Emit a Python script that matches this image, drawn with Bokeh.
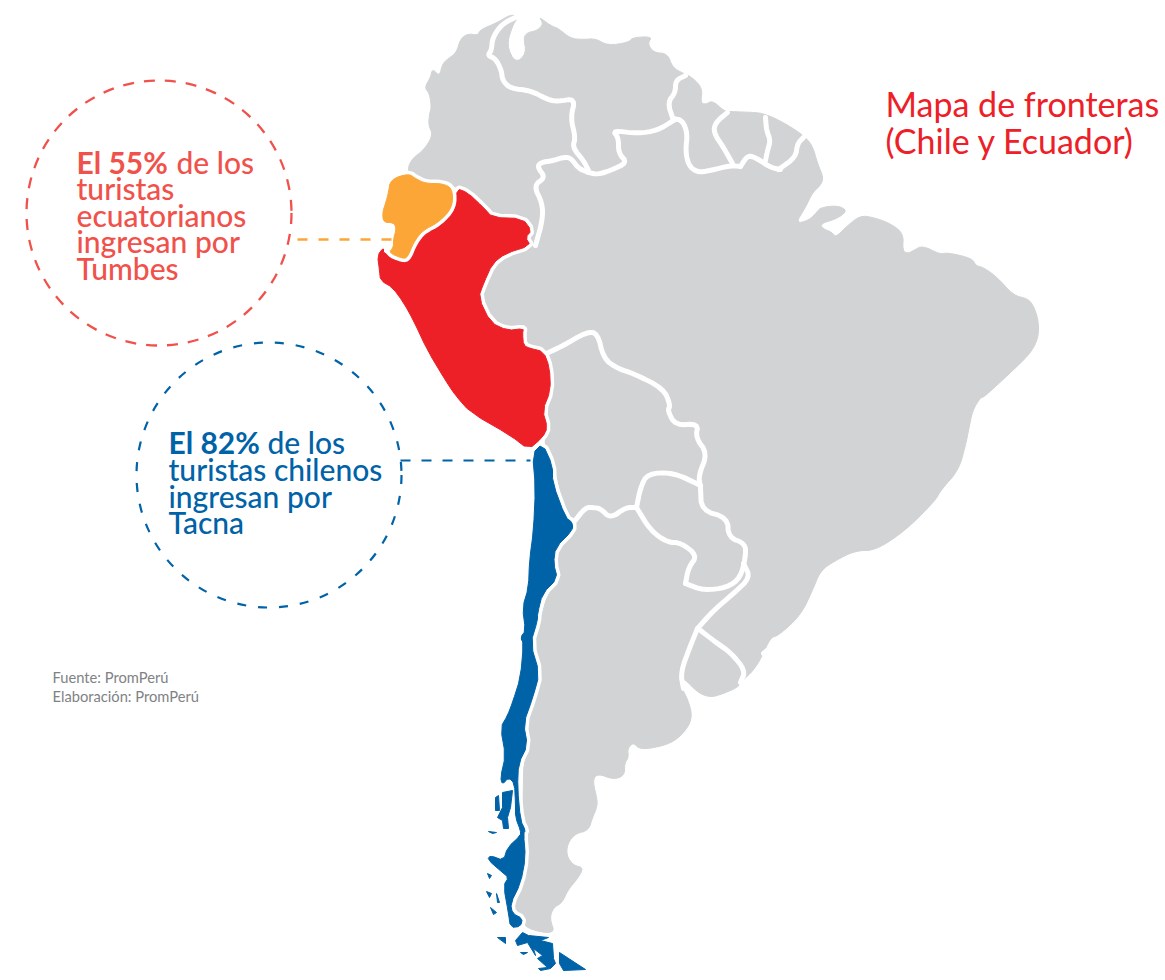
from bokeh.plotting import figure
from bokeh.models import Range1d
from bokeh.core.properties import value
from bokeh.embed import file_html
from bokeh.resources import INLINE

# --- map geometry (x, y in picture pixels) ---
land = [(408,173),(408,165),(413,157),(420,152),(428,143),(432,133),(428,125),(429,113),(431,107),(429,93),(424,87),(430,77),(432,68),(439,76),(442,63),(448,58),(456,52),(460,38),(468,33),(477,35),(480,29),(497,22),(510,14),(518,16),
 (512,25),(506,45),(515,63),(526,53),(523,37),(527,32),(537,30),(543,23),(538,16),(550,25),(558,28),(570,38),(583,39),(595,38),(607,45),(628,42),(632,37),(652,36),(647,43),(653,52),(667,53),(672,67),(683,73),(692,77),(702,88),(700,102),(705,104),(712,100),(723,110),(728,111),(757,112),(765,114),(775,118),(788,125),(803,135),(812,145),(817,163),(823,177),(820,185),(812,192),(805,207),(795,223),(808,220),(816,212),(820,207),(837,205),(847,210),(837,218),(820,223),(822,228),(832,232),(835,237),(847,225),(860,215),(873,217),(890,223),(903,233),(902,250),(907,253),(913,250),(922,245),(940,254),(947,252),(972,258),(975,265),(983,267),(997,277),(1013,295),(1027,298),(1033,305),(1038,320),(1038,337),(1030,353),(1007,375),(983,397),(980,397),(972,410),(968,430),(965,445),(958,470),(940,490),(935,500),(905,530),(875,550),(855,550),(835,560),(820,570),(812,590),(800,615),(778,635),(770,637),(762,655),(753,670),(742,680),(737,687),(723,693),(710,697),(697,692),(683,677),
 (678,682),(688,700),(692,718),(683,733),(670,743),(650,748),(638,748),(633,742),(627,748),(628,757),(624,763),(624,775),(613,779),(597,773),(592,780),(597,800),(596,808),(592,817),(588,830),(575,833),(567,843),(566,855),(573,865),(583,867),(578,877),(567,890),(562,902),(553,907),(549,918),(555,934),(525,928),(522,917),(513,908),(513,900),
 (522,883),(527,857),(525,837),(525,827),(522,807),(523,787),(523,763),(530,745),(525,723),(533,700),(542,673),(533,643),(540,620),(547,593),(560,580),(555,547),(575,530),(575,520),(567,517),(557,480),(555,467),(543,443),(548,427),(544,410),(552,390),(552,367),(547,352),(542,348),(527,347),(523,337),(523,330),(525,322),(507,332),(492,323),(485,310),(478,295),(485,282),(493,263),(503,255),(510,255),(533,247),(527,238),(532,230),(522,218),(497,217),(485,207),(467,192),(453,185),(428,182),(413,175)]

peru = [(383,247),(377,255),(379,270),(380,280),(392,287),(403,302),(413,320),(427,350),(445,380),(455,395),(470,412),(510,435),(528,449),(542,437),(547,427),(542,410),(550,390),(549,367),(543,351),(530,348),(523,345),(522,333),(523,328),(507,330),(490,322),(478,297),(483,283),(492,263),(505,253),(530,245),(525,237),(531,230),(522,218),(492,217),(483,207),(467,192),(456,188),(456,207),(442,223),(425,232),(415,243),(410,258),(403,262),(383,253)]

ecuador = [(408,173),(390,179),(388,192),(385,203),(382,212),(383,222),(393,222),(396,228),(393,238),(393,247),(388,252),(402,258),(407,257),(413,242),(422,230),(438,222),(452,207),(452,188),(442,183),(425,183),(415,178)]

chile = [(542,443),(532,453),(535,487),(533,530),(529,560),(528,587),(522,607),(525,630),(520,637),(523,643),(520,677),(512,702),(507,715),(500,727),(505,755),(500,777),(502,784),(508,777),(514,783),(515,803),(515,817),(520,830),(520,835),(507,847),(503,860),(490,855),(487,859),(502,872),(508,877),(503,885),(508,913),(510,927),(520,926),(522,918),(512,913),(510,903),(520,883),(525,857),(523,833),(525,830),(520,820),(517,787),(518,763),(527,745),(523,723),(532,698),(539,673),(530,643),(537,620),(537,613),(542,593),(557,578),(553,563),(555,547),(572,530),(572,522),(565,517),(552,482),(552,465)]

chile_islands = [
 [(495,797),(498,795),(499,810),(495,810)],
 [(502,792),(512,790),(510,807),(507,817),(508,828),(503,828),(502,820),(497,817),(502,807)],
 [(488,831),(496,832),(492,833)],
 [(490,907),(496,912),(493,914)],
 [(487,873),(491,875),(489,878)],
 [(486,891),(491,893),(489,897)],
 [(496,893),(499,902),(497,902)],
 [(522,932),(528,935),(548,937),(540,940),(552,943),(553,958),(555,963),(550,968),(540,970),(538,968),(547,967),(537,958),(542,955),(533,948),(535,955),(527,942),(517,945),(515,940)],
 [(559,952),(585,969),(563,970),(559,963)],
 [(520,952),(527,952),(523,954)],
 [(497,937),(505,937),(505,943)],
]

borders = [
 [(517,16),(502,23),(492,37),(491,50),(487,55),(495,58),(501,70),(502,80),(510,88),(530,90),(547,99),(557,101),(575,98),(570,117),(575,137),(572,147),(583,160),(588,170)],
 [(588,172),(597,174),(610,170),(627,162),(618,153),(618,137),(612,130),(637,133),(657,130),(673,120)],
 [(673,120),(667,102),(675,92),(675,80),(685,75)],
 [(673,118),(682,120),(687,133),(685,150),(688,165),(697,172),(710,170),(730,165),(740,166)],
 [(727,112),(715,122),(713,132),(723,147),(732,163)],
 [(740,166),(747,155),(755,157),(770,167),(780,169)],
 [(765,117),(766,130),(770,140),(767,150),(765,160)],
 [(778,169),(795,157),(797,143),(803,137)],
 [(588,172),(578,168),(570,157),(562,157),(553,160),(540,162),(537,167),(545,177),(533,185),(542,203),(542,220),(535,245)],
 [(548,352),(563,345),(585,332),(597,332),(603,358),(617,368),(633,373),(663,388),(670,405),(667,410),(675,425),(698,423),(695,437),(707,453),(698,475),(700,487)],
 [(700,485),(673,472),(647,473),(640,487),(636,507)],
 [(636,507),(625,507),(610,518),(600,508),(592,507),(585,507),(573,522)],
 [(700,487),(701,510),(727,517),(728,537),(745,543),(745,557),(740,577),(727,587),(703,590),(685,583)],
 [(636,507),(650,530),(667,542),(680,542),(697,555),(688,567),(685,583)],
 [(743,563),(750,577),(733,593),(713,610),(697,628)],
 [(697,628),(690,645),(680,672),(683,688)],
 [(700,630),(717,643),(730,652),(745,670),(740,682)],
 [(763,653),(778,640)],
 [(805,215),(812,202)],
]

tail_orange_x, tail_orange_y = [297, 393], [239, 239]
tail_blue_x, tail_blue_y = [400, 530], [460, 460]
circle_red = (158.5, 212.5, 132.5)
circle_blue = (268.5, 474.5, 132.5)

title_lines = ["Mapa de fronteras", "(Chile y Ecuador)"]
red_bold = "El 55%"
red_rest = "de los"
red_lines = ["turistas", "ecuatorianos", "ingresan por", "Tumbes"]
blue_bold = "El 82%"
blue_rest = "de los"
blue_lines = ["turistas chilenos", "ingresan por", "Tacna"]
source_lines = ["Fuente: PromPerú", "Elaboración: PromPerú"]

GRAY, RED, ORANGE, BLUE = "#D1D3D4", "#ED2028", "#FBA637", "#0062A7"
CORAL, NOTE = "#F0524B", "#808285"

def round_off(pts, closed=True, passes=2):
    """Corner rounding of a hand-traced outline, for drawing only."""
    for _ in range(passes):
        out = []
        n = len(pts)
        if not closed:
            out.append(pts[0])
        for i in range(n if closed else n - 1):
            a, b = pts[i], pts[(i + 1) % n]
            out.append((a[0] * .75 + b[0] * .25, a[1] * .75 + b[1] * .25))
            out.append((a[0] * .25 + b[0] * .75, a[1] * .25 + b[1] * .75))
        if not closed:
            out.append(pts[-1])
        pts = out
    return [q[0] for q in pts], [q[1] for q in pts]

p = figure(width=1165, height=980, x_range=Range1d(0, 1165), y_range=Range1d(980, 0),
           output_backend="svg", toolbar_location=None, min_border=0,
           x_axis_type=None, y_axis_type=None, outline_line_color=None,
           background_fill_color="white", border_fill_color="white")
p.grid.visible = False

x, y = round_off(land)
p.patch(x, y, fill_color=GRAY, line_color=GRAY, line_width=1, line_join="round")
lines = [round_off(b, closed=False) for b in borders]
p.multi_line([l[0] for l in lines], [l[1] for l in lines], line_color="white",
             line_width=5, line_join="round", line_cap="round")

for poly, col, n in ((peru, RED, 1), (ecuador, ORANGE, 2), (chile, BLUE, 1)):
    x, y = round_off(poly, passes=n)
    p.patch(x, y, fill_color="white", line_color="white", line_width=8, line_join="round")
    p.patch(x, y, fill_color=col, line_color=col, line_width=1, line_join="round")

isl = [round_off(i, passes=0) for i in chile_islands]
p.patches([i[0] for i in isl], [i[1] for i in isl], fill_color=BLUE, line_color=BLUE, line_width=1)

p.line(tail_orange_x, tail_orange_y, line_color=ORANGE, line_width=2.4, line_dash="10 11")
p.line(tail_blue_x, tail_blue_y, line_color=BLUE, line_width=2.2, line_dash="10 11")
p.circle([circle_red[0]], [circle_red[1]], radius=circle_red[2], fill_color=None,
         line_color=CORAL, line_width=2.3, line_dash="11 10")
p.circle([circle_blue[0]], [circle_blue[1]], radius=circle_blue[2], fill_color=None,
         line_color=BLUE, line_width=2.2, line_dash="9 12")

def label(x, y, text, size, color, font="Lato Medium", style="normal"):
    # the page draws "alphabetic" text about a third of its size lower than asked
    p.text([x], [y - 0.35 * size], text=[text], text_font=value(font), text_font_size=f"{size}px",
           text_color=color, text_font_style=style, text_align="left", text_baseline="alphabetic")

label(885, 115, title_lines[0], 34, RED, "Lato")
label(885, 152, title_lines[1], 34, RED, "Lato")

label(76, 171.5, red_bold, 30, CORAL, "Lato", "bold")
label(176, 171.5, red_rest, 30, CORAL)
for i, t in enumerate(red_lines):
    label(76, 198 + 26.6 * i, t, 30, CORAL)

label(168, 452, blue_bold, 30, BLUE, "Lato", "bold")
label(267, 452, blue_rest, 30, BLUE)
for i, t in enumerate(blue_lines):
    label(168, 479 + 26.6 * i, t, 30, BLUE)

label(52, 681.5, source_lines[0], 14.7, NOTE, "Lato")
label(52, 701, source_lines[1], 14.7, NOTE, "Lato")

open("out.html", "w").write(file_html(p, INLINE))
